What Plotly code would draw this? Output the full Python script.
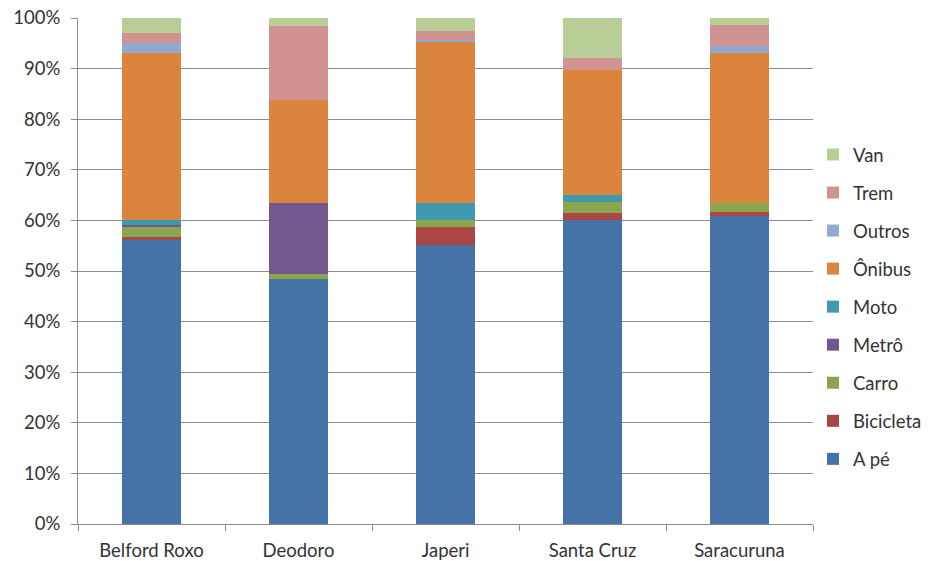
import plotly.graph_objects as go

categories = ["Belford Roxo", "Deodoro", "Japeri", "Santa Cruz", "Saracuruna"]

series_names = ["A pé", "Bicicleta", "Carro", "Metrô", "Moto", "Ônibus", "Outros", "Trem", "Van"]

a_pe      = [56.2, 48.5, 55.2, 60.1, 60.8]
bicicleta = [0.6, 0.0, 3.4, 1.4, 0.8]
carro     = [1.9, 0.9, 1.5, 2.1, 1.8]
metro     = [0.4, 14.0, 0.0, 0.0, 0.0]
moto      = [0.9, 0.0, 3.3, 1.35, 0.0]
onibus    = [33.1, 20.3, 31.8, 24.75, 29.6]
outros    = [2.0, 0.0, 0.5, 0.0, 1.4]
trem      = [1.9, 14.7, 1.8, 2.3, 4.2]
van       = [3.0, 1.6, 2.5, 8.0, 1.4]

series_values = [a_pe, bicicleta, carro, metro, moto, onibus, outros, trem, van]
colors = ["#4572A7", "#AA4643", "#89A54E", "#71588F", "#4198AF",
          "#DB843D", "#93A9CF", "#D19392", "#B9CD96"]

y_ticks = [0, 10, 20, 30, 40, 50, 60, 70, 80, 90, 100]
y_tick_labels = [f"{v}%" for v in y_ticks]

FONT = "Lato"
FS = 18.5

fig = go.Figure()
n = len(series_names)
for i, (name, vals, col) in enumerate(zip(series_names, series_values, colors)):
    fig.add_trace(go.Bar(
        x=categories, y=vals, name=name, marker_color=col,
        marker_line_width=0, legendgroup=name, legendrank=n - i,
    ))

fig.update_layout(
    barmode="stack",
    bargap=0.605,
    width=928, height=561,
    margin=dict(l=78, r=115, t=18, b=37, autoexpand=False),
    paper_bgcolor="white", plot_bgcolor="white",
    font=dict(family=FONT, size=FS, color="#333333"),
    legend=dict(
        traceorder="grouped", tracegroupgap=11,
        x=1.0, xanchor="left", y=0.429, yanchor="middle",
        font=dict(family=FONT, size=FS, color="#333333"),
        itemclick=False, bgcolor="rgba(0,0,0,0)",
    ),
    showlegend=True,
)
fig.update_yaxes(
    range=[0, 100], tickvals=y_ticks, ticktext=y_tick_labels,
    showgrid=True, gridcolor="#8c8c8c", gridwidth=1,
    showline=True, linecolor="#8c8c8c", linewidth=1,
    ticks="outside", ticklen=6, tickcolor="#8c8c8c",
    ticklabelstandoff=7,
    zeroline=False, fixedrange=True, automargin=False,
)
fig.update_xaxes(
    showline=True, linecolor="#8c8c8c", linewidth=1,
    ticks="outside", ticklen=6, tickcolor="#8c8c8c",
    tickson="boundaries", showgrid=False, fixedrange=True,
    ticklabelstandoff=10, automargin=False,
)

fig.write_html("out.html")
